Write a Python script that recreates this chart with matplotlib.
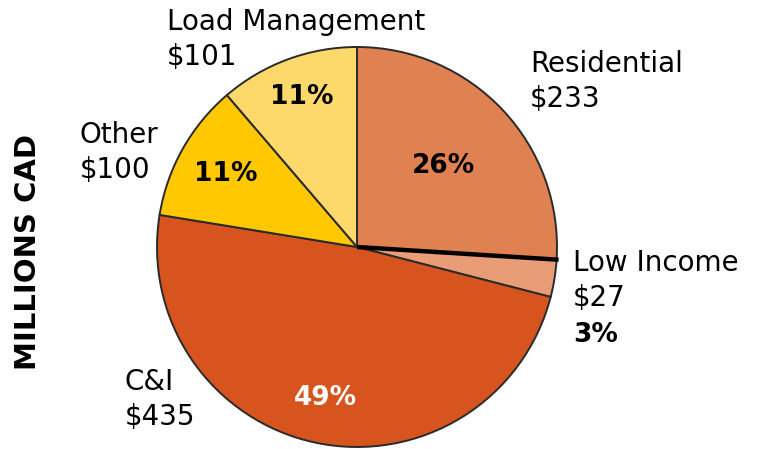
import numpy as np
import matplotlib.pyplot as plt

segments = ["Residential", "Low Income", "C&I", "Other", "Load Management"]
values = [233, 27, 435, 100, 101]
colors = ["#E08152", "#E99D76", "#D7541F", "#FFC800", "#FDD86A"]
pct_colors = ["black", "black", "white", "black", "black"]

plt.rcParams['font.family'] = ['DejaVu Sans']

fig = plt.figure(figsize=(7.65, 4.49), dpi=100)
ax = fig.add_axes([0, 0, 1, 1])

cx, cy, r = 357, 202, 200
wedges, _ = ax.pie(values, colors=colors, startangle=90, counterclock=False,
                   center=(cx, cy), radius=r, frame=True,
                   wedgeprops=dict(edgecolor="#2a2a2a", linewidth=1.4))
ax.set_xlim(0, 765)
ax.set_ylim(0, 449)
ax.set_aspect('equal')
ax.axis('off')

# thick divider between Residential and Low Income
t = np.deg2rad(wedges[0].theta1)
ax.plot([cx, cx + 1.01 * r * np.cos(t)], [cy, cy + 1.01 * r * np.sin(t)],
        color="black", lw=3.2, solid_capstyle='butt', zorder=5)

total = sum(values)
pct_frac = [0.59, None, 0.77, 0.75, 0.80]
for w, v, f, c in zip(wedges, values, pct_frac, pct_colors):
    if f is None:
        continue
    mid = np.deg2rad((w.theta1 + w.theta2) / 2)
    ax.text(cx + f * r * np.cos(mid), cy + f * r * np.sin(mid),
            f"{round(100 * v / total)}%", ha='center', va='center',
            fontsize=19, fontweight='bold', color=c)

lab_pos = {
    "Residential": (530, 385),
    "Low Income": (573, 186),
    "C&I": (125, 67),
    "Other": (80, 314),
    "Load Management": (167, 427),
}
for s, v in zip(segments, values):
    x, y = lab_pos[s]
    ax.text(x, y, s, ha='left', va='center', fontsize=20)
    ax.text(x, y - 35, f"${v}", ha='left', va='center', fontsize=20)
ax.text(573, 114, f"{round(100 * values[1] / total)}%", ha='left', va='center',
        fontsize=19, fontweight='bold')

ax.text(28, 197, "MILLIONS CAD", rotation=90, ha='center', va='center',
        fontsize=21, fontweight='bold')

fig.savefig("out.png", dpi=100)
